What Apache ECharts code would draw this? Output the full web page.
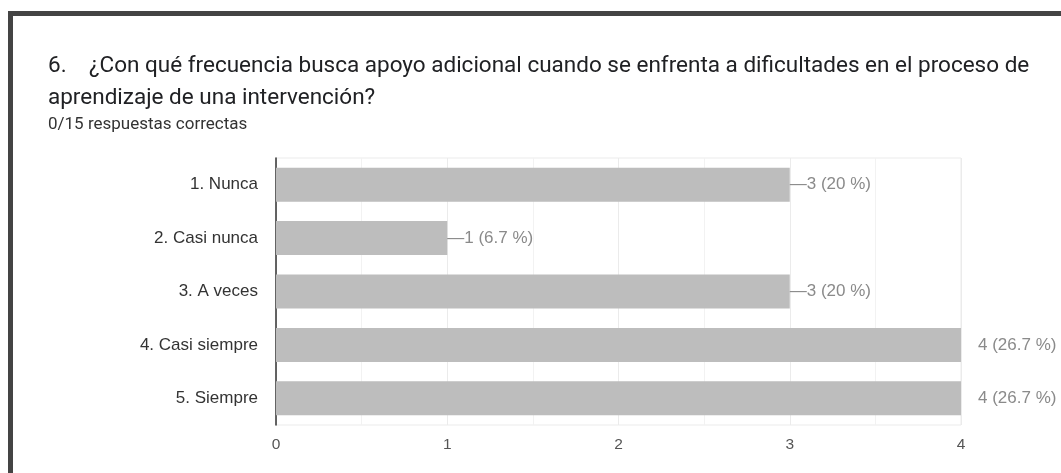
<!DOCTYPE html>
<html>
<head>
<meta charset="utf-8">
<script src="https://cdn.jsdelivr.net/npm/echarts@6/dist/echarts.min.js"></script>
<style>
  html, body { margin: 0; padding: 0; background: #fff; }
  #chart { width: 1061px; height: 473px; }
</style>
</head>
<body>
<div id="chart"></div>
<script>
// Answer options, top to bottom
const categories = ['1. Nunca', '2. Casi nunca', '3. A veces', '4. Casi siempre', '5. Siempre'];
// Number of responses for each option
const counts = [3, 1, 3, 4, 4];
// Share of the 15 responses, as printed next to each bar
const percents = ['20', '6.7', '20', '26.7', '26.7'];
const xTicks = [0, 1, 2, 3, 4];

const titleText = '6.    ¿Con qué frecuencia busca apoyo adicional cuando se enfrenta a dificultades en el proceso de\naprendizaje de una intervención?';
const subText = '0/15 respuestas correctas';

const maxCount = Math.max(...counts);

const chart = echarts.init(document.getElementById('chart'), null, { renderer: 'canvas' });

const option = {
  backgroundColor: '#ffffff',
  animation: false,
  title: {
    text: titleText,
    subtext: subText,
    left: 43,
    top: 45,
    itemGap: 2,
    textStyle: {
      fontFamily: 'Roboto',
      fontSize: 22.5,
      fontWeight: 'normal',
      color: '#202124',
      lineHeight: 32
    },
    subtextStyle: {
      fontFamily: 'Roboto',
      fontSize: 17,
      color: '#333333'
    }
  },
  graphic: [
    { type: 'rect', shape: { x: 8, y: 11, width: 1053, height: 5 }, style: { fill: '#444444' }, silent: true },
    { type: 'rect', shape: { x: 8, y: 11, width: 5, height: 462 }, style: { fill: '#444444' }, silent: true }
  ],
  grid: {
    left: 276,
    right: 100,
    top: 158,
    bottom: 48,
    show: true,
    borderColor: '#ebebeb',
    borderWidth: 1
  },
  xAxis: {
    type: 'value',
    min: xTicks[0],
    max: xTicks[xTicks.length - 1],
    interval: 1,
    axisLine: { show: false },
    axisTick: { show: false },
    axisLabel: {
      fontFamily: 'Liberation Sans',
      fontSize: 15.5,
      color: '#555555',
      margin: 12
    },
    splitLine: { show: true, lineStyle: { color: '#ebebeb', width: 1 } },
    minorTick: { show: false, splitNumber: 2 },
    minorSplitLine: { show: true, lineStyle: { color: '#f2f2f2', width: 1 } }
  },
  yAxis: {
    type: 'category',
    data: categories,
    inverse: true,
    axisLine: { show: true, lineStyle: { color: '#333333', width: 1.5 } },
    axisTick: { show: false },
    axisLabel: {
      fontFamily: 'Liberation Sans',
      fontSize: 17,
      color: '#333333',
      margin: 18
    },
    splitLine: { show: false }
  },
  series: [{
    type: 'bar',
    data: counts.map((v, i) => ({
      value: v,
      label: v === maxCount
        ? { distance: 17, formatter: v + ' (' + percents[i] + ' %)' }
        : { distance: 0, formatter: '\u2014' + v + ' (' + percents[i] + ' %)' }
    })),
    barWidth: 34,
    itemStyle: { color: '#bdbdbd' },
    label: {
      show: true,
      position: 'right',
      fontFamily: 'Liberation Sans',
      fontSize: 17,
      color: '#8a8a8a'
    }
  }]
};

chart.setOption(option);
</script>
</body>
</html>
